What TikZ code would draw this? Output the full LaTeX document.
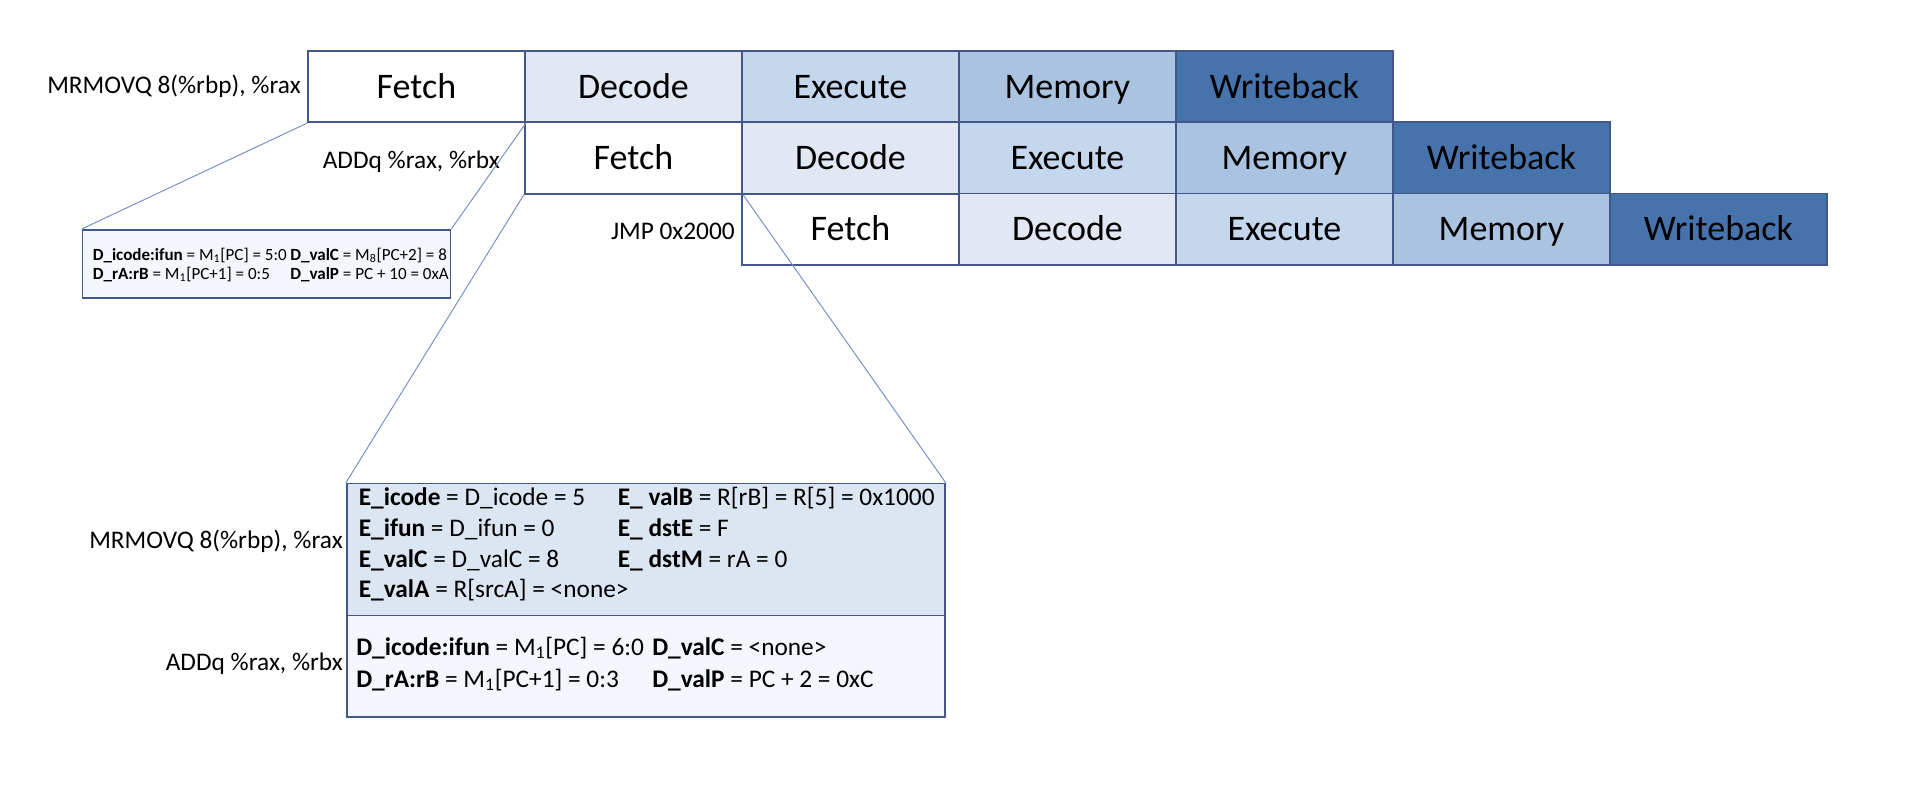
\documentclass[tikz,border=0pt]{standalone}
\usepackage{fontspec}
\setmainfont{Carlito}
\definecolor{bordc}{HTML}{44578A}
\definecolor{decc}{HTML}{E1E8F4}
\definecolor{exec}{HTML}{C5D7EC}
\definecolor{memc}{HTML}{A9C3E0}
\definecolor{wbc}{HTML}{4673AC}
\definecolor{linec}{HTML}{7890C8}
\definecolor{etop}{HTML}{DCE6F2}
\definecolor{ebot}{HTML}{F3F6FB}
\newcommand{\Msub}[1]{M\textsubscript{#1}}
\begin{document}
\begin{tikzpicture}[x=0.75pt,y=-0.75pt,
  stagebox/.style={draw=bordc,line width=1.4pt,minimum width=162.75pt,minimum height=53.5pt,
    inner sep=0pt,anchor=north west,font=\fontsize{27}{32}\selectfont,text height=17.4pt,text depth=0pt},
  lbl/.style={inner sep=0pt,anchor=base east,font=\fontsize{19}{23}\selectfont},
  bigtxt/.style={inner sep=0pt,anchor=base west,font=\fontsize{19}{23}\selectfont},
  smalltxt/.style={inner sep=0pt,anchor=base west,font=\fontsize{12.8}{15}\selectfont},
  panel/.style={draw=bordc,line width=1.2pt,inner sep=0pt,anchor=north west},
  conn/.style={draw=linec,line width=0.75pt}]
\useasboundingbox (0,0) rectangle (1928,792);
% row 1
\node[stagebox] (r1f) at (307,50) {Fetch};
\node[stagebox,fill=decc] (r1d) at (524,50) {Decode};
\node[stagebox,fill=exec] (r1e) at (741,50) {Execute};
\node[stagebox,fill=memc] (r1m) at (958,50) {Memory};
\node[stagebox,fill=wbc] (r1w) at (1175,50) {Writeback};
% row 2
\node[stagebox] (r2f) at (524,121.3) {Fetch};
\node[stagebox,fill=decc] (r2d) at (741,121.3) {Decode};
\node[stagebox,fill=exec] (r2e) at (958,121.3) {Execute};
\node[stagebox,fill=memc] (r2m) at (1175,121.3) {Memory};
\node[stagebox,fill=wbc] (r2w) at (1392,121.3) {Writeback};
% row 3
\node[stagebox] (r3f) at (741,192.6) {Fetch};
\node[stagebox,fill=decc] (r3d) at (958,192.6) {Decode};
\node[stagebox,fill=exec] (r3e) at (1175,192.6) {Execute};
\node[stagebox,fill=memc] (r3m) at (1392,192.6) {Memory};
\node[stagebox,fill=wbc] (r3w) at (1609,192.6) {Writeback};
% labels
\node[lbl] (l1) at (301,93.3) {MRMOVQ 8(\%rbp), \%rax};
\node[lbl] (l2) at (500,168.5) {ADDq \%rax, \%rbx};
\node[lbl] (l3) at (735,239.3) {JMP 0x2000};
\node[lbl] (l4) at (343,548) {MRMOVQ 8(\%rbp), \%rax};
\node[lbl] (l5) at (343,670) {ADDq \%rax, \%rbx};
% small panel
\node[panel,fill=ebot,minimum width=276pt,minimum height=51pt] (sbox) at (81.7,229) {};
\node[smalltxt] (s1) at (92.5,260) {\textbf{D\_icode:ifun} = \Msub{1}[PC] = 5:0};
\node[smalltxt] (s2) at (290,260) {\textbf{D\_valC} = \Msub{8}[PC+2] = 8};
\node[smalltxt] (s3) at (92.5,279.5) {\textbf{D\_rA:rB} = \Msub{1}[PC+1] = 0:5};
\node[smalltxt] (s4) at (290,279.5) {\textbf{D\_valP} = PC + 10 = 0xA};
% big panel
\node[panel,fill=etop,minimum width=448.5pt,minimum height=99pt] (btop) at (346,482.6) {};
\node[panel,fill=ebot,minimum width=448.5pt,minimum height=76pt] (bbot) at (346,614.7) {};
\node[bigtxt] (e1) at (358.6,505.5) {\textbf{E\_icode} = D\_icode = 5};
\node[bigtxt] (e2) at (358.6,536) {\textbf{E\_ifun} = D\_ifun = 0};
\node[bigtxt] (e3) at (358.6,567) {\textbf{E\_valC} = D\_valC = 8};
\node[bigtxt] (e4) at (358.6,597.5) {\textbf{E\_valA} = R[srcA] = <none>};
\node[bigtxt] (e5) at (617.6,505.5) {\textbf{E\_ valB} = R[rB] = R[5] = 0x1000};
\node[bigtxt] (e6) at (617.6,536) {\textbf{E\_ dstE} = F};
\node[bigtxt] (e7) at (617.6,567) {\textbf{E\_ dstM} = rA = 0};
\node[bigtxt] (d1) at (356,655) {\textbf{D\_icode:ifun} = \Msub{1}[PC] = 6:0};
\node[bigtxt] (d2) at (652,655) {\textbf{D\_valC} = <none>};
\node[bigtxt] (d3) at (356,687) {\textbf{D\_rA:rB} = \Msub{1}[PC+1] = 0:3};
\node[bigtxt] (d4) at (652,687) {\textbf{D\_valP} = PC + 2 = 0xC};
% connectors
\draw[conn] (r1f.south west) -- (sbox.north west);
\draw[conn] (r1f.south east) -- (sbox.north east);
\draw[conn] (r2f.south west) -- (btop.north west);
\draw[conn] (r2f.south east) -- (btop.north east);
\end{tikzpicture}
\end{document}
